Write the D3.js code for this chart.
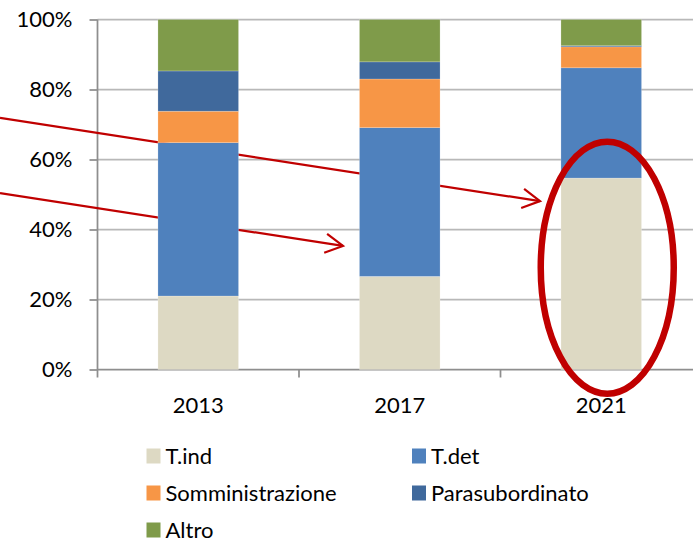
<!DOCTYPE html>
<html>
<head>
<meta charset="utf-8">
<script src="https://cdn.jsdelivr.net/npm/d3@7"></script>
<style>
  html, body { margin: 0; padding: 0; background: #fff; }
  svg { display: block; font-family: Lato, "Open Sans", sans-serif; }
</style>
</head>
<body>
<div id="chart"></div>
<script>
// dati
const years = ["2013", "2017", "2021"];
const series = ["T.ind", "T.det", "Somministrazione", "Parasubordinato", "Altro"];
const tInd = [21.0, 26.6, 54.7];
const tDet = [43.8, 42.5, 31.5];
const somministrazione = [9.0, 13.9, 6.0];
const parasubordinato = [11.5, 4.9, 0.3];
const altro = [14.7, 12.1, 7.5];
const yTicks = [0, 20, 40, 60, 80, 100];
const colors = ["#DDD9C3", "#4F81BD", "#F79646", "#40699C", "#7F9B4A"];

const width = 693, height = 538;

const svg = d3.select("#chart")
  .append("svg")
  .attr("width", width)
  .attr("height", height);

const x = d3.scaleBand()
  .domain(years)
  .range([97.5, 702])
  .paddingInner(0.6)
  .paddingOuter(0.3);

const y = d3.scaleLinear().domain([0, 100]).range([369.5, 19.5]);

const rows = years.map((yr, i) => ({
  year: yr,
  "T.ind": tInd[i],
  "T.det": tDet[i],
  "Somministrazione": somministrazione[i],
  "Parasubordinato": parasubordinato[i],
  "Altro": altro[i]
}));
const stacked = d3.stack().keys(series)(rows);

// griglia
svg.append("g")
  .selectAll("line")
  .data(yTicks.filter((d) => d > 0))
  .enter()
  .append("line")
  .attr("x1", x.range()[0])
  .attr("x2", width)
  .attr("y1", (d) => y(d))
  .attr("y2", (d) => y(d))
  .attr("stroke", "#B8B8B8")
  .attr("stroke-width", 1.75);

// asse y
const yAxis = svg.append("g")
  .attr("transform", `translate(${x.range()[0]},0)`)
  .call(d3.axisLeft(y).tickValues(yTicks).tickFormat((d) => d + "%").tickSize(8).tickSizeOuter(0));
yAxis.select(".domain").attr("stroke", "#8E8E8E").attr("stroke-width", 1.75)
  .attr("d", `M0,${y(100)}V${y(0) + 8}`);
yAxis.selectAll(".tick line").attr("stroke", "#8E8E8E").attr("stroke-width", 1.75);
yAxis.selectAll(".tick text")
  .attr("x", -25)
  .attr("fill", "#000")
  .style("font-size", "22px")
  .style("font-family", "Lato, sans-serif");

// asse x
const step = x.step();
const gap = (step - x.bandwidth()) / 2;
const boundaries = years.map((yr) => x(yr) - gap).concat([x(years[years.length - 1]) + x.bandwidth() + gap]);
svg.append("line")
  .attr("x1", x.range()[0])
  .attr("x2", width)
  .attr("y1", y(0))
  .attr("y2", y(0))
  .attr("stroke", "#8E8E8E")
  .attr("stroke-width", 1.75);
svg.append("g")
  .selectAll("line")
  .data(boundaries.slice(1))
  .enter()
  .append("line")
  .attr("x1", (d) => d)
  .attr("x2", (d) => d)
  .attr("y1", y(0))
  .attr("y2", y(0) + 8)
  .attr("stroke", "#8E8E8E")
  .attr("stroke-width", 1.75);
svg.append("g")
  .selectAll("text")
  .data(years)
  .enter()
  .append("text")
  .attr("x", (d) => x(d) + x.bandwidth() / 2)
  .attr("y", y(0) + 43)
  .attr("text-anchor", "middle")
  .style("font-size", "22px")
  .text((d) => d);

// frecce (dietro le barre)
const arrows = [
  { from: [0, 71.9], to: [540, 48.1] },
  { from: [0, 50.4], to: [343, 35.3] }
];
const red = "#C00000";
arrows.forEach((a) => {
  const x0 = a.from[0], y0 = y(a.from[1]);
  const x1 = a.to[0], y1 = y(a.to[1]);
  const ang = Math.atan2(y1 - y0, x1 - x0);
  const len = 20, spread = 0.5;
  svg.append("line")
    .attr("x1", x0).attr("y1", y0)
    .attr("x2", x1).attr("y2", y1)
    .attr("stroke", red)
    .attr("stroke-width", 2.2);
  svg.append("path")
    .attr("d", `M${x1 - len * Math.cos(ang - spread)},${y1 - len * Math.sin(ang - spread)}L${x1},${y1}L${x1 - len * Math.cos(ang + spread)},${y1 - len * Math.sin(ang + spread)}`)
    .attr("fill", "none")
    .attr("stroke", red)
    .attr("stroke-width", 2.2);
});

// barre
svg.append("g")
  .selectAll("g")
  .data(stacked)
  .enter()
  .append("g")
  .attr("fill", (d, i) => colors[i])
  .selectAll("rect")
  .data((d) => d)
  .enter()
  .append("rect")
  .attr("x", (d) => x(d.data.year))
  .attr("width", x.bandwidth())
  .attr("y", (d) => y(d[1]))
  .attr("height", (d) => y(d[0]) - y(d[1]))
  .attr("stroke", "rgba(255,255,255,0.35)")
  .attr("stroke-width", 0.6);

// ellisse su 2021
const ellipse = { year: "2021", dx: 6, cy: 29.1, ry: 36, rx: 66.5 };
svg.append("ellipse")
  .attr("cx", x(ellipse.year) + x.bandwidth() / 2 + ellipse.dx)
  .attr("cy", y(ellipse.cy))
  .attr("rx", ellipse.rx)
  .attr("ry", y(0) - y(ellipse.ry))
  .attr("fill", "none")
  .attr("stroke", red)
  .attr("stroke-width", 6.5);

// legenda
const legend = svg.append("g")
  .selectAll("g")
  .data(series)
  .enter()
  .append("g")
  .attr("transform", (d, i) => `translate(${i % 2 === 0 ? 146.5 : 412}, ${456 + Math.floor(i / 2) * 37})`);
legend.append("rect")
  .attr("x", 0)
  .attr("y", -7.5)
  .attr("width", 14)
  .attr("height", 15)
  .attr("fill", (d, i) => colors[i]);
legend.append("text")
  .attr("x", 19)
  .attr("y", 8)
  .style("font-size", "22px")
  .text((d) => d);
</script>
</body>
</html>
